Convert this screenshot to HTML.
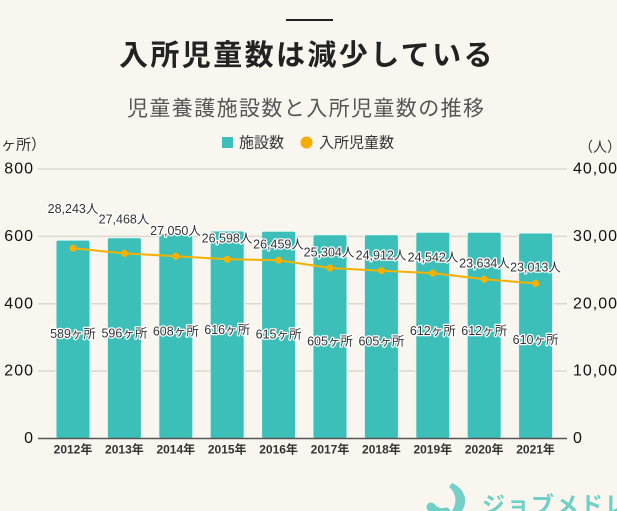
<!DOCTYPE html>
<html><head><meta charset="utf-8">
<style>
html,body{margin:0;padding:0;background:#f9f6ef;}
svg{display:block;}
text{font-family:"Liberation Sans","Noto Sans CJK JP",sans-serif;}
.ax{font-family:"DejaVu Sans","Noto Sans CJK JP",sans-serif;font-size:16px;fill:#111;letter-spacing:1px;}
.lbl{font-size:12.5px;fill:#333;stroke:#fff;stroke-width:2.5px;paint-order:stroke;stroke-linejoin:round;}
.xl{font-size:12px;fill:#333;font-weight:bold;}
</style></head>
<body>
<svg width="617" height="511" viewBox="0 0 617 511" xmlns="http://www.w3.org/2000/svg">
<rect width="617" height="511" fill="#f9f6ef"/>
<!-- top rule -->
<rect x="286" y="19" width="47" height="2" fill="#222"/>
<!-- title -->
<text x="119" y="56" dominant-baseline="central" font-size="29" font-weight="700" letter-spacing="2.4" fill="#222">入所児童数は減少している</text>
<text x="127" y="109" dominant-baseline="central" font-size="21" letter-spacing="1.4" fill="#555">児童養護施設数と入所児童数の推移</text>
<!-- legend -->
<rect x="222" y="137" width="11" height="11" fill="#3cbfb8"/>
<text x="239" y="143" dominant-baseline="central" font-size="15" fill="#333">施設数</text>
<circle cx="306.5" cy="142.5" r="6" fill="#f6ad00"/>
<text x="319" y="143" dominant-baseline="central" font-size="15" fill="#333">入所児童数</text>
<!-- unit labels -->
<text x="-14" y="145" dominant-baseline="central" font-size="15" fill="#333">（ヶ所）</text>
<text x="579" y="147" dominant-baseline="central" font-size="14" fill="#333">（人）</text>
<!-- gridlines -->
<g stroke="#dcd8d0" stroke-width="1.5">
<line x1="38" y1="169" x2="567" y2="169"/>
<line x1="38" y1="236.4" x2="567" y2="236.4"/>
<line x1="38" y1="303.8" x2="567" y2="303.8"/>
<line x1="38" y1="371.1" x2="567" y2="371.1"/>
</g>
<!-- left axis -->
<g class="ax" text-anchor="end" dominant-baseline="central">
<text x="34" y="169">800</text>
<text x="34" y="236.4">600</text>
<text x="34" y="303.8">400</text>
<text x="34" y="371.1">200</text>
<text x="34" y="438.5">0</text>
</g>
<!-- right axis -->
<g class="ax" dominant-baseline="central">
<text x="573" y="169">40,000</text>
<text x="573" y="236.4">30,000</text>
<text x="573" y="303.8">20,000</text>
<text x="573" y="371.1">10,000</text>
<text x="573" y="438.5">0</text>
</g>
<!-- bars -->
<g fill="#3cbfb8" stroke="#e9f7f5" stroke-width="1">
<rect x="56" y="240.1" width="34" height="198.4" rx="2"/>
<rect x="107.4" y="237.7" width="34" height="200.8" rx="2"/>
<rect x="158.8" y="233.7" width="34" height="204.8" rx="2"/>
<rect x="210.2" y="231.0" width="34" height="207.5" rx="2"/>
<rect x="261.6" y="231.3" width="34" height="207.2" rx="2"/>
<rect x="313" y="234.7" width="34" height="203.8" rx="2"/>
<rect x="364.4" y="234.7" width="34" height="203.8" rx="2"/>
<rect x="415.8" y="232.3" width="34" height="206.2" rx="2"/>
<rect x="467.2" y="232.3" width="34" height="206.2" rx="2"/>
<rect x="518.6" y="233.0" width="34" height="205.5" rx="2"/>
</g>
<!-- zero line -->
<line x1="38" y1="438.5" x2="567" y2="438.5" stroke="#555" stroke-width="1.5"/>
<!-- line series -->
<polyline fill="none" stroke="#f6b000" stroke-width="2" points="73,248.2 124.4,253.4 175.8,256.2 227.2,259.3 278.6,260.2 330,268.0 381.4,270.7 432.8,273.1 484.2,279.3 535.6,283.4"/>
<g fill="#f6b000">
<circle cx="73" cy="248.2" r="3.6"/>
<circle cx="124.4" cy="253.4" r="3.6"/>
<circle cx="175.8" cy="256.2" r="3.6"/>
<circle cx="227.2" cy="259.3" r="3.6"/>
<circle cx="278.6" cy="260.2" r="3.6"/>
<circle cx="330" cy="268.0" r="3.6"/>
<circle cx="381.4" cy="270.7" r="3.6"/>
<circle cx="432.8" cy="273.1" r="3.6"/>
<circle cx="484.2" cy="279.3" r="3.6"/>
<circle cx="535.6" cy="283.4" r="3.6"/>
</g>
<!-- line labels -->
<g class="lbl" text-anchor="middle" dominant-baseline="central">
<text x="73" y="209">28,243人</text>
<text x="124" y="219.3">27,468人</text>
<text x="175.5" y="231">27,050人</text>
<text x="227" y="238.3">26,598人</text>
<text x="278.5" y="244.3">26,459人</text>
<text x="329" y="252.3">25,304人</text>
<text x="381" y="255.7">24,912人</text>
<text x="433" y="257.3">24,542人</text>
<text x="484.5" y="263.3">23,634人</text>
<text x="535.5" y="267.3">23,013人</text>
</g>
<!-- bar labels -->
<g class="lbl" text-anchor="middle" dominant-baseline="central">
<text x="73" y="334">589ヶ所</text>
<text x="124.4" y="333.3">596ヶ所</text>
<text x="175.8" y="331.7">608ヶ所</text>
<text x="227.2" y="330">616ヶ所</text>
<text x="278.6" y="334.3">615ヶ所</text>
<text x="330" y="341.7">605ヶ所</text>
<text x="381.4" y="341.7">605ヶ所</text>
<text x="432.8" y="331">612ヶ所</text>
<text x="484.2" y="331">612ヶ所</text>
<text x="535.6" y="340">610ヶ所</text>
</g>
<!-- x labels -->
<g class="xl" text-anchor="middle" dominant-baseline="central">
<text x="73" y="449.3">2012年</text>
<text x="124.4" y="449.3">2013年</text>
<text x="175.8" y="449.3">2014年</text>
<text x="227.2" y="449.3">2015年</text>
<text x="278.6" y="449.3">2016年</text>
<text x="330" y="449.3">2017年</text>
<text x="381.4" y="449.3">2018年</text>
<text x="432.8" y="449.3">2019年</text>
<text x="484.2" y="449.3">2020年</text>
<text x="535.6" y="449.3">2021年</text>
</g>
<!-- logo -->
<path d="M452,483 C468,490 470,508 455,517 L446,517 C458,508 458,494 449,487 Z" fill="#72d0c8"/>
<path d="M446,512 C440,514 434,511 431,507" fill="none" stroke="#72d0c8" stroke-width="9" stroke-linecap="round"/>
<text x="482" y="513" font-size="23" font-weight="700" letter-spacing="1.5" fill="#6fd0c7">ジョブメドレー</text>
</svg>
</body></html>
